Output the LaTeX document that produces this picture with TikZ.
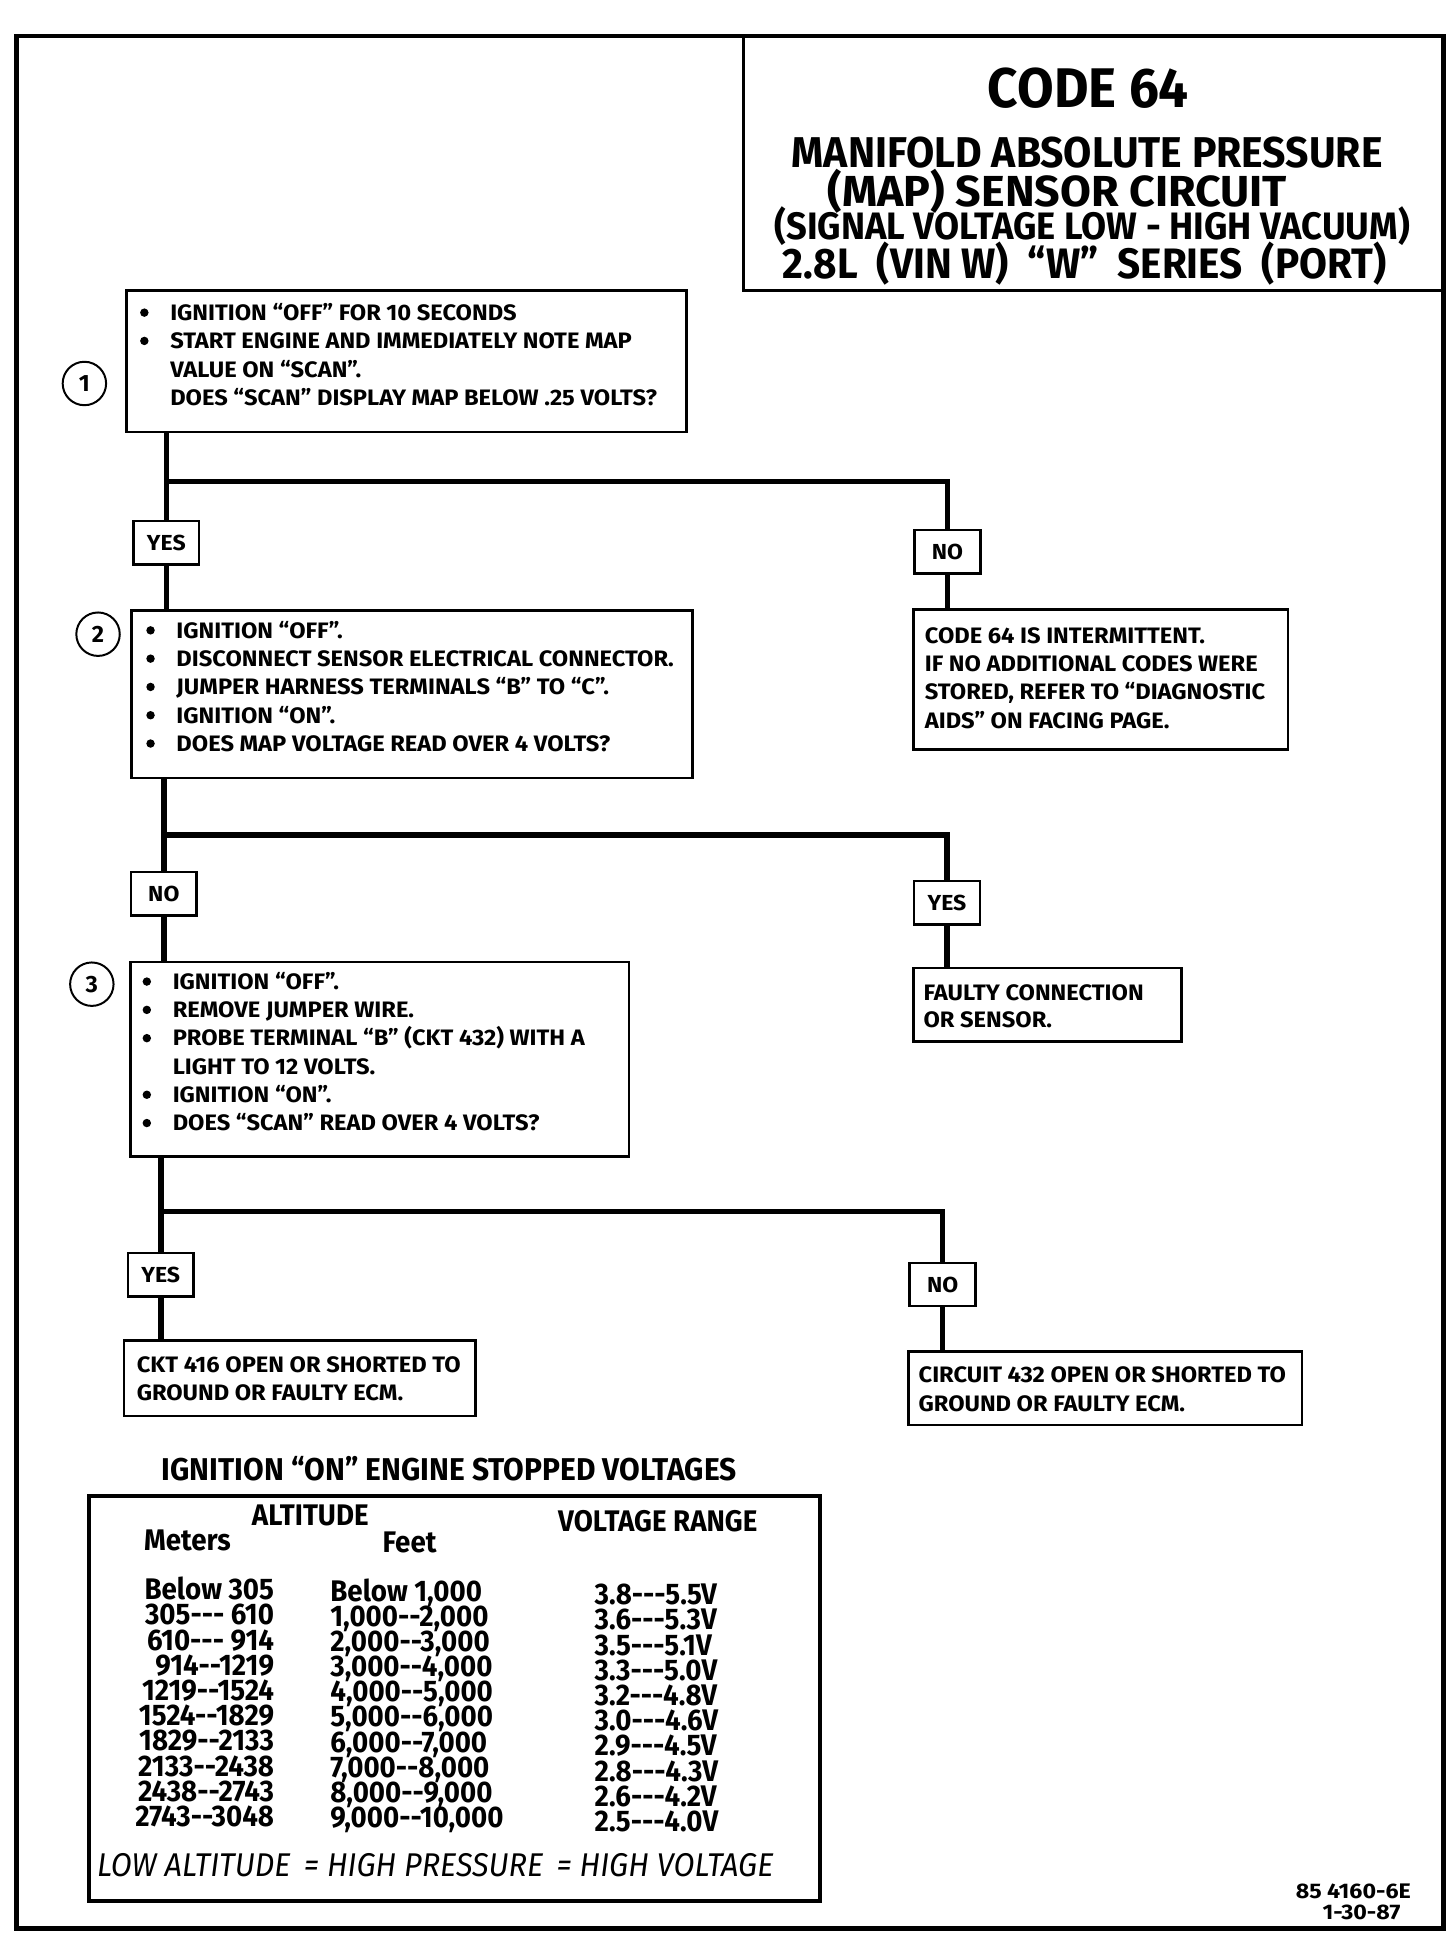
\documentclass[tikz,border=0pt]{standalone}
\usepackage{fontspec}
\setmainfont{Fira Sans}
\newfontfamily\tfont{Fira Sans}[FakeStretch=0.95]
\newfontfamily\mfont{Fira Sans}[FakeStretch=1.03]
\newfontfamily\nfont{Fira Sans}[FakeStretch=0.93]
\newfontfamily\bfont{Fira Sans}[FakeStretch=1.06]
\newfontfamily\ffont{Fira Sans}[FakeStretch=1.1]
\tikzset{
  frame/.style={draw, line width=4pt},
  box/.style={draw, line width=2pt, anchor=north west, inner sep=0pt},
  lbl/.style={draw, line width=2pt, minimum width=53pt, minimum height=35pt, inner sep=0pt, font=\bfont\fontsize{17.5}{17.5}\selectfont\bfseries},
  conn/.style={line width=4.5pt},
  txt/.style={anchor=north west, inner sep=0pt, align=left, font=\bfont\fontsize{18}{22.8}\selectfont\bfseries},
  ttl/.style={anchor=base, inner sep=0pt},
  num/.style={draw, circle, line width=1.6pt, minimum size=35pt, inner sep=0pt, font=\fontsize{19}{19}\selectfont\bfseries},
  tab/.style={inner sep=0pt, font=\nfont\fontsize{24}{24}\selectfont\bfseries},
}
\newcommand\bul{\llap{\tikz[baseline=0pt]\fill (0pt,6.3pt) circle[radius=3.4pt];\hspace{17.5pt}}}
\newcommand\st{\rule{0pt}{16pt}}
\begin{document}
\begin{tikzpicture}[x=1pt,y=-1pt]
\useasboundingbox (0,0) rectangle (1173,1568);
% frame
\node[frame, anchor=north west, minimum width=1150pt, minimum height=1525pt, inner sep=0pt] (frame) at (11,27) {};
% title
\node[box, minimum width=565pt, minimum height=205pt] (title) at (598,28) {};
\node[ttl, font=\tfont\bfseries\fontsize{45}{45}\selectfont] (t1) at (877,87) {CODE 64};
\node[ttl, font=\tfont\bfseries\fontsize{34.7}{35}\selectfont] (t2) at (876,135) {MANIFOLD ABSOLUTE PRESSURE};
\node[ttl, font=\mfont\bfseries\fontsize{35}{35}\selectfont] (t3) at (852,166) {(MAP) SENSOR CIRCUIT};
\node[ttl, font=\tfont\bfseries\fontsize{30.8}{30}\selectfont] (t4) at (880,193) {(SIGNAL VOLTAGE LOW - HIGH VACUUM)};
\node[ttl, font=\tfont\bfseries\fontsize{34.3}{35}\selectfont] (t5) at (874,224) {2.8L\ \ (VIN W)\ \ “W”\ \ SERIES\ \ (PORT)};
% step 1
\node[box, minimum width=451pt, minimum height=114pt] (b1) at (101,233) {};
\node[txt] (b1t) at (137,242) {\st\bul IGNITION “OFF” FOR 10 SECONDS\\
\bul START ENGINE AND IMMEDIATELY NOTE MAP\\
VALUE ON “SCAN”.\\
DOES “SCAN” DISPLAY MAP BELOW .25 VOLTS?};
\node[num] (n1) at (68,309) {1};
\node[lbl] (yes1) at (134,437.5) {YES};
\node[lbl] (no1) at (763.5,444.5) {NO};
\coordinate (j1) at (134,388);
\draw[conn] (yes1.north |- b1.south) -- (j1) -| (no1.north);
\draw[conn] (j1) -- (yes1.north);
% result 1
\node[box, minimum width=302pt, minimum height=113pt] (r1) at (735,490) {};
\node[txt] (r1t) at (745,502) {\st CODE 64 IS INTERMITTENT.\\
IF NO ADDITIONAL CODES WERE\\
STORED, REFER TO “DIAGNOSTIC\\
AIDS” ON FACING PAGE.};
\draw[conn] (no1.south) -- (no1.south |- r1.north);
% step 2
\node[box, minimum width=452pt, minimum height=135pt] (b2) at (105,491) {};
\node[txt] (b2t) at (142,498) {\st\bul IGNITION “OFF”.\\
\bul DISCONNECT SENSOR ELECTRICAL CONNECTOR.\\
\bul JUMPER HARNESS TERMINALS “B” TO “C”.\\
\bul IGNITION “ON”.\\
\bul DOES MAP VOLTAGE READ OVER 4 VOLTS?};
\node[num] (n2) at (79,511) {2};
\draw[conn] (yes1.south) -- (yes1.south |- b2.north);
\node[lbl] (no2) at (132,720) {NO};
\node[lbl] (yes2) at (763,727.5) {YES};
\coordinate (j2) at (132,673);
\draw[conn] (no2.north |- b2.south) -- (j2) -| (yes2.north);
\draw[conn] (j2) -- (no2.north);
% result 2
\node[box, minimum width=216pt, minimum height=59pt] (r2) at (735,779) {};
\node[txt] (r2t) at (744,790) {\st FAULTY CONNECTION\\[-0.8pt]
OR SENSOR.};
\draw[conn] (yes2.south) -- (yes2.south |- r2.north);
% step 3
\node[box, minimum width=402pt, minimum height=157pt] (b3) at (104,774) {};
\node[txt] (b3t) at (139,781) {\st\bul IGNITION “OFF”.\\
\bul REMOVE JUMPER WIRE.\\
\bul PROBE TERMINAL “B” (CKT 432) WITH A\\
LIGHT TO 12 VOLTS.\\
\bul IGNITION “ON”.\\
\bul DOES “SCAN” READ OVER 4 VOLTS?};
\node[num] (n3) at (74,793) {3};
\draw[conn] (no2.south) -- (no2.south |- b3.north);
\node[lbl] (yes3) at (129.5,1027) {YES};
\node[lbl] (no3) at (759.5,1035) {NO};
\coordinate (j3) at (129.5,976);
\draw[conn] (yes3.north |- b3.south) -- (j3) -| (no3.north);
\draw[conn] (j3) -- (yes3.north);
% results 3
\node[box, minimum width=283pt, minimum height=61pt] (r3a) at (99,1079) {};
\node[txt] (r3at) at (110,1090) {\st CKT 416 OPEN OR SHORTED TO\\[-0.8pt]
GROUND OR FAULTY ECM.};
\draw[conn] (yes3.south) -- (yes3.south |- r3a.north);
\node[box, minimum width=317pt, minimum height=59pt] (r3b) at (731,1088) {};
\node[txt] (r3bt) at (740,1098) {\st CIRCUIT 432 OPEN OR SHORTED TO\\
GROUND OR FAULTY ECM.};
\draw[conn] (no3.south) -- (no3.south |- r3b.north);
% table
\node[anchor=base, inner sep=0pt, font=\tfont\bfseries\fontsize{25.4}{26}\selectfont] (tabt) at (362,1193) {IGNITION “ON” ENGINE STOPPED VOLTAGES};
\node[box, line width=3pt, minimum width=589pt, minimum height=326pt] (tabbox) at (70,1204) {};
\node[tab, anchor=base] (halt) at (250,1229) {ALTITUDE};
\node[tab, anchor=base] (hmet) at (151,1249) {Meters};
\node[tab, anchor=base] (hft) at (330,1251) {Feet};
\node[tab, anchor=base] (hvr) at (530,1234) {VOLTAGE RANGE};
\foreach \m/\f/\v [count=\i from 0] in {Below 305/Below 1{,}000/3.8---5.5V,
  305--- 610/1{,}000--2{,}000/3.6---5.3V,
  610--- 914/2{,}000--3{,}000/3.5---5.1V,
  914--1219/3{,}000--4{,}000/3.3---5.0V,
  1219--1524/4{,}000--5{,}000/3.2---4.8V,
  1524--1829/5{,}000--6{,}000/3.0---4.6V,
  1829--2133/6{,}000--7{,}000/2.9---4.5V,
  2133--2438/7{,}000--8{,}000/2.8---4.3V,
  2438--2743/8{,}000--9{,}000/2.6---4.2V,
  2743--3048/9{,}000--10{,}000/2.5---4.0V}{
  \node[tab, anchor=base east] (m\i) at (221,1289+20.3*\i) {\m};
  \node[tab, anchor=base west] (f\i) at (266,1290+20.3*\i) {\f};
  \node[tab, anchor=base west] (v\i) at (479,1293+20.3*\i) {\v};
}
\node[anchor=base west, inner sep=0pt, font=\nfont\itshape\fontsize{26.5}{26}\selectfont] (law) at (78,1512) {LOW ALTITUDE\ \,=\ HIGH PRESSURE\ \,=\ HIGH VOLTAGE};
% footer
\node[anchor=base east, inner sep=0pt, font=\ffont\fontsize{17}{17}\selectfont\bfseries] (ref) at (1137,1530) {85 4160-6E};
\node[anchor=base, inner sep=0pt, font=\ffont\fontsize{17}{17}\selectfont\bfseries] (date) at (1097,1547) {1-30-87};
\end{tikzpicture}
\end{document}
